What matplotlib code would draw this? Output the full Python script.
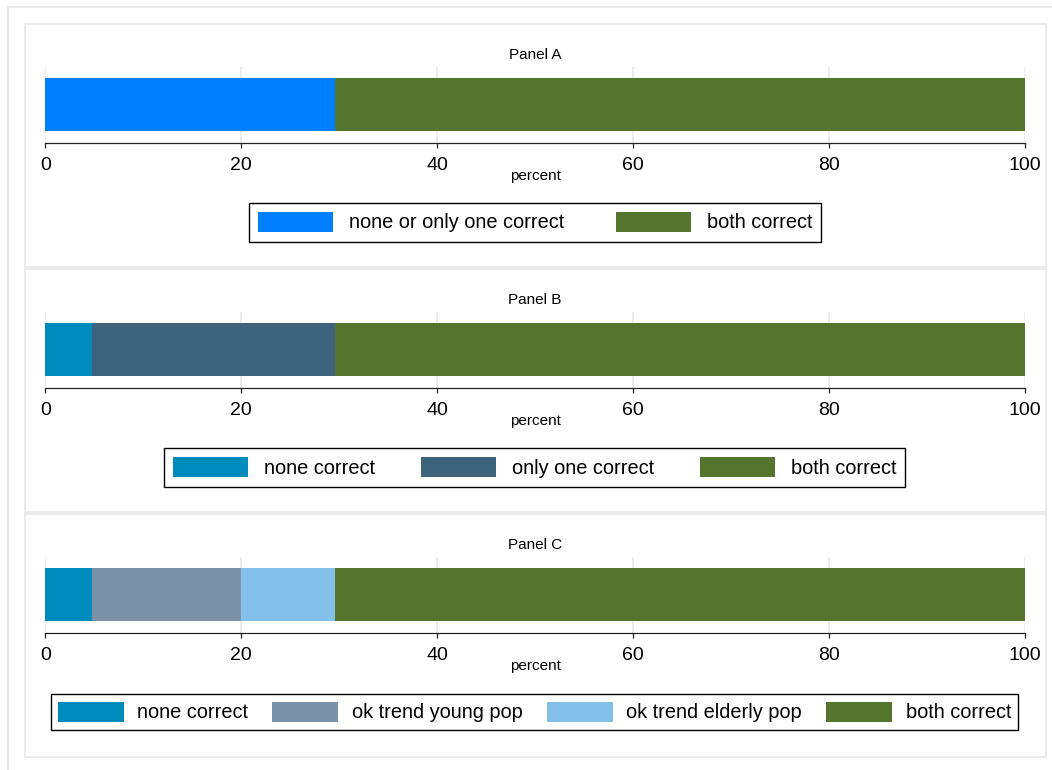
import matplotlib
matplotlib.use("Agg")
import matplotlib.pyplot as plt
from matplotlib.patches import Rectangle
import numpy as np

plt.rcParams['font.family'] = ['Liberation Sans', 'DejaVu Sans']

# ---- data (percent of respondents) ----
panel_titles = ["Panel A", "Panel B", "Panel C"]

labels_a = ["none or only one correct", "both correct"]
values_a = [29.6, 70.4]

labels_b = ["none correct", "only one correct", "both correct"]
values_b = [4.8, 24.8, 70.4]

labels_c = ["none correct", "ok trend young pop", "ok trend elderly pop", "both correct"]
values_c = [4.8, 15.2, 9.6, 70.4]

xticks = [0, 20, 40, 60, 80, 100]

colors_a = ["#0080FF", "#55752F"]
colors_b = ["#008BBC", "#3E647D", "#55752F"]
colors_c = ["#008BBC", "#7B92A8", "#82C0E9", "#55752F"]

W, H = 1052, 770
fig = plt.figure(figsize=(W / 100, H / 100), dpi=100)
fig.patch.set_facecolor("white")


def fx(px):
    return px / W


def fy(py):
    return 1 - py / H


# outer frame of the combined graph
fig.patches.append(Rectangle((fx(8), fy(790)), fx(1080 - 8), (790 - 7) / H,
                             transform=fig.transFigure, facecolor="none",
                             edgecolor="#EBEBEB", lw=1.5, zorder=-2))

panel_tops = [24, 269, 514]
legend_opts = [
    dict(handlelength=3.75, handletextpad=0.8, columnspacing=2.6, borderpad=0.45),
    dict(handlelength=3.75, handletextpad=0.8, columnspacing=2.3, borderpad=0.45),
    dict(handlelength=3.3, handletextpad=0.68, columnspacing=1.2, borderpad=0.36),
]
legend_cx = [535, 534.5, 534.5]

panels = [
    (labels_a, values_a, colors_a),
    (labels_b, values_b, colors_b),
    (labels_c, values_c, colors_c),
]

x_left, x_right = 45.3, 1024.7

for i, (labels, values, colors) in enumerate(panels):
    top = panel_tops[i]
    # panel frame
    fig.patches.append(Rectangle((fx(24.5), fy(top + 243)), (1046 - 24.5) / W, 243 / H,
                                 transform=fig.transFigure, facecolor="none",
                                 edgecolor="#EBEBEB", lw=1.5, zorder=-1))

    ax = fig.add_axes([fx(x_left), fy(top + 119), (x_right - x_left) / W, 76 / H])
    ax.set_facecolor("none")

    lefts = np.concatenate([[0], np.cumsum(values)[:-1]])
    handles = []
    for lab, v, l, c in zip(labels, values, lefts, colors):
        h = ax.barh(0, v, left=l, height=1.0, color=c, label=lab, linewidth=0)
        handles.append(h)

    ax.set_xlim(0, 100)
    ax.set_ylim(-0.726, 0.708)
    ax.set_xticks(xticks)
    ax.set_xticklabels([str(t) for t in xticks])
    ax.set_yticks([])
    ax.grid(axis="x", color="#EAEAEA", lw=1.3)
    ax.set_axisbelow(True)
    for s in ["top", "left", "right"]:
        ax.spines[s].set_visible(False)
    ax.spines["bottom"].set_color("#222222")
    ax.spines["bottom"].set_linewidth(0.9)
    ax.tick_params(axis="x", direction="out", length=3.4, width=0.9,
                   color="#222222", labelsize=14, pad=7)

    fig.text(fx(535), fy(top + 31), panel_titles[i], ha="center", va="center",
             fontsize=11)
    fig.text(fx(535), fy(top + 152), "percent", ha="center", va="center",
             fontsize=11)

    leg = ax.legend(handles=handles, labels=labels, loc="center",
                    bbox_to_anchor=(fx(legend_cx[i]), fy(top + 198)),
                    bbox_transform=fig.transFigure, ncol=len(labels),
                    frameon=True, fancybox=False, edgecolor="black",
                    framealpha=1, fontsize=14.4, handleheight=1.2,
                    **legend_opts[i])
    leg.get_frame().set_linewidth(1.0)

fig.savefig("out.png", dpi=100, facecolor="white")
